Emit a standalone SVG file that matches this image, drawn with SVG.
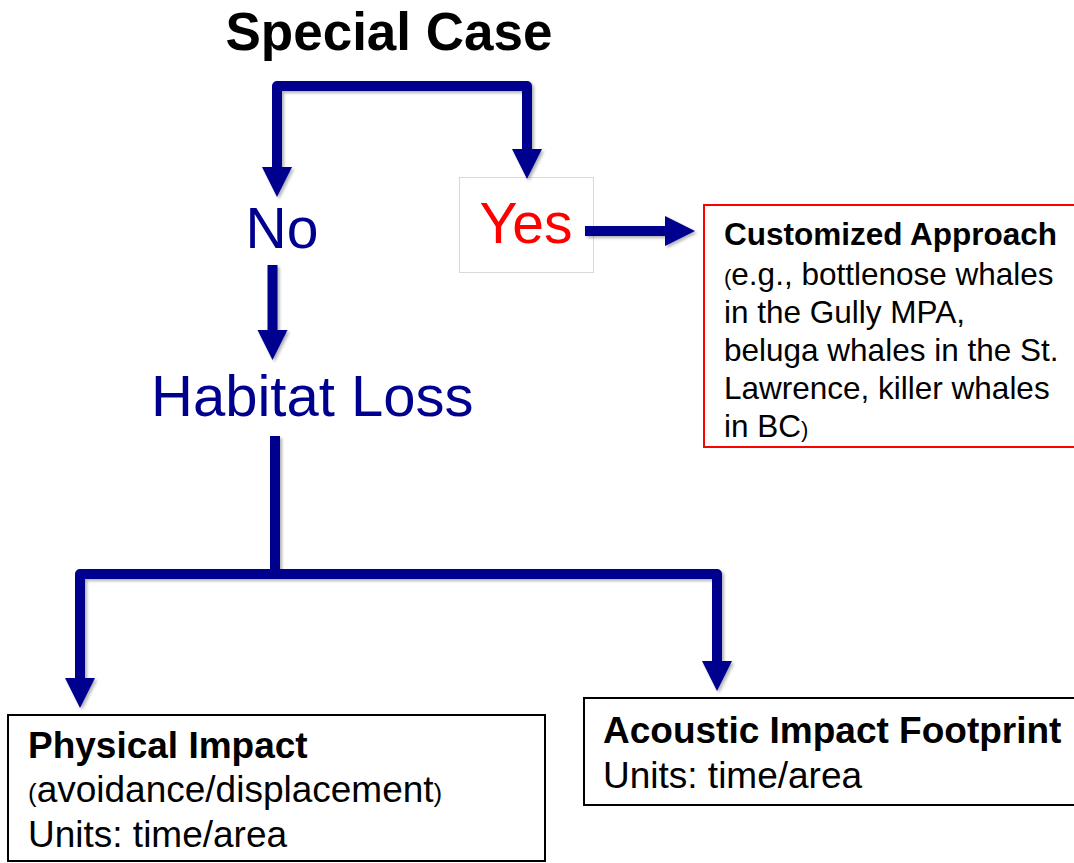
<svg xmlns="http://www.w3.org/2000/svg" width="1074" height="863" viewBox="0 0 1074 863">
  <style>
    text { font-family: "Liberation Sans", Arial, sans-serif; }
    .title { font-size: 53px; font-weight: bold; fill: #000; }
    .blue { fill: #00008f; }
    .red { fill: #ff0000; }
    .conn { fill: none; stroke: #00008f; stroke-width: 10; stroke-linejoin: round; filter: url(#sh); }
    .bold { font-weight: bold; fill: #000; }
    .body { fill: #000; }
    .sp { font-size: 0.7em; }
  </style>
  <defs>
    <filter id="sh" filterUnits="userSpaceOnUse" x="0" y="0" width="1074" height="863">
      <feDropShadow dx="2" dy="2" stdDeviation="1.5" flood-color="#000" flood-opacity="0.3"/>
    </filter>
    <marker id="ah" markerUnits="userSpaceOnUse" markerWidth="32" markerHeight="32" viewBox="0 -16 32 32" refX="0" refY="0" orient="auto-start-reverse">
      <path d="M0,-15 L30,0 L0,15 Z" fill="#00008f"/>
    </marker>
  </defs>

  <g id="title">
    <text class="title" x="389" y="50" text-anchor="middle">Special Case</text>
  </g>

  <g id="no">
    <text class="blue" x="282" y="248" font-size="57" text-anchor="middle">No</text>
  </g>

  <g id="yes">
    <rect x="459.5" y="177.5" width="134" height="95" fill="#fff" stroke="#d9d9d9" stroke-width="1"/>
    <text class="red" x="526" y="243" font-size="57" text-anchor="middle">Yes</text>
  </g>

  <g id="habitat-loss">
    <text class="blue" x="151" y="416" font-size="58">Habitat Loss</text>
  </g>

  <g id="customized">
    <rect x="704" y="205" width="380" height="242" fill="#fff" stroke="#ff0000" stroke-width="2"/>
    <text class="bold" x="724" y="245" font-size="31.5">Customized Approach</text>
    <text class="body" font-size="31.5">
      <tspan x="724" y="285"><tspan class="sp">(</tspan>e.g., bottlenose whales</tspan>
      <tspan x="724" y="323">in the Gully MPA,</tspan>
      <tspan x="724" y="361">beluga whales in the St.</tspan>
      <tspan x="724" y="399">Lawrence, killer whales</tspan>
      <tspan x="724" y="437">in BC<tspan class="sp">)</tspan></tspan>
    </text>
  </g>

  <g id="physical">
    <rect x="8" y="715" width="537" height="146" fill="#fff" stroke="#000" stroke-width="2"/>
    <text class="bold" x="28" y="758" font-size="37">Physical Impact</text>
    <text class="body" x="28" y="802" font-size="37"><tspan class="sp">(</tspan>avoidance/displacement<tspan class="sp">)</tspan></text>
    <text class="body" x="28" y="847" font-size="37">Units: time/area</text>
  </g>

  <g id="acoustic">
    <rect x="584" y="698" width="500" height="107" fill="#fff" stroke="#000" stroke-width="2"/>
    <text class="bold" x="603" y="743" font-size="37">Acoustic Impact Footprint</text>
    <text class="body" x="603" y="788" font-size="37">Units: time/area</text>
  </g>

  <g id="connectors">
    <path class="conn" d="M277,167 L277,86 L527,86 L527,149" marker-start="url(#ah)" marker-end="url(#ah)"/>
    <path class="conn" d="M585,231 L665,231" marker-end="url(#ah)"/>
    <path class="conn" d="M272.5,265 L272.5,330" marker-end="url(#ah)"/>
    <path class="conn" d="M275,436 L275,574"/>
    <path class="conn" d="M80,678 L80,574 L717,574 L717,661" marker-start="url(#ah)" marker-end="url(#ah)"/>
  </g>
</svg>
